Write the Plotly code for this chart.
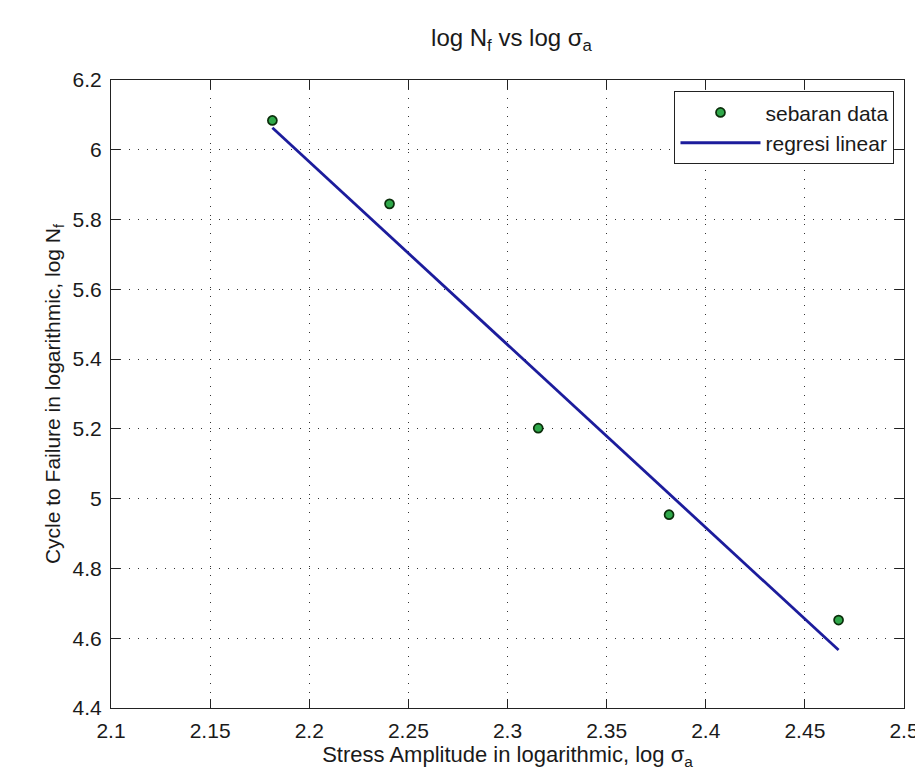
import plotly.graph_objects as go

# data
log_sigma = [2.1814, 2.2405, 2.3155, 2.3815, 2.4670]
log_nf = [6.084, 5.845, 5.202, 4.954, 4.652]

# regression line end points
fit_x = [2.1814, 2.4670]
fit_y = [6.063, 4.566]

x_ticks = [2.1, 2.15, 2.2, 2.25, 2.3, 2.35, 2.4, 2.45, 2.5]
x_tick_text = ["2.1", "2.15", "2.2", "2.25", "2.3", "2.35", "2.4", "2.45", "2.5"]
y_ticks = [4.4, 4.6, 4.8, 5.0, 5.2, 5.4, 5.6, 5.8, 6.0, 6.2]
y_tick_text = ["4.4", "4.6", "4.8", "5", "5.2", "5.4", "5.6", "5.8", "6", "6.2"]

FONT = "Liberation Sans, Arial, sans-serif"
TXT = "#1a1a1a"

fig = go.Figure()
fig.add_trace(go.Scatter(
    x=log_sigma, y=log_nf, mode="markers", name="sebaran data",
    marker=dict(size=9, color="#2fa84a", line=dict(color="#0b2e0b", width=1.7)),
))
fig.add_trace(go.Scatter(
    x=fit_x, y=fit_y, mode="lines", name="regresi linear",
    line=dict(color="#1c1c9c", width=2.8),
))

axis_common = dict(
    showline=True, linecolor="#222222", linewidth=1, mirror="allticks",
    ticks="inside", ticklen=9, tickcolor="#222222",
    showgrid=True, gridcolor="#333333", griddash="1px,8px", gridwidth=1,
    zeroline=False, tickfont=dict(family=FONT, size=21, color=TXT),
)

fig.update_xaxes(
    range=[2.1, 2.5], tickvals=x_ticks, ticktext=x_tick_text,
    title=dict(text="Stress Amplitude in logarithmic, log σ<sub>a</sub>",
               font=dict(family=FONT, size=22, color=TXT), standoff=2),
    ticklabelstandoff=4,
    **axis_common,
)
fig.update_yaxes(
    range=[4.4, 6.2], tickvals=y_ticks, ticktext=y_tick_text,
    title=dict(text="Cycle to Failure in logarithmic, log N<sub>f</sub>",
               font=dict(family=FONT, size=21, color=TXT), standoff=6),
    ticklabelstandoff=4,
    **axis_common,
)

fig.update_layout(
    width=923, height=771,
    margin=dict(l=103, r=19, t=72, b=71),
    paper_bgcolor="white", plot_bgcolor="white",
    title=dict(text="log N<sub>f</sub> vs log σ<sub>a</sub>", x=0.5455, xanchor="center",
               y=0.962, yanchor="middle",
               font=dict(family=FONT, size=24, color=TXT)),
    legend=dict(x=0.988, y=0.982, xanchor="right", yanchor="top",
                bordercolor="#222222", borderwidth=1, bgcolor="white",
                font=dict(family=FONT, size=21, color=TXT),
                itemwidth=80, tracegroupgap=0),
    showlegend=True,
)

fig.write_html("out.html")
